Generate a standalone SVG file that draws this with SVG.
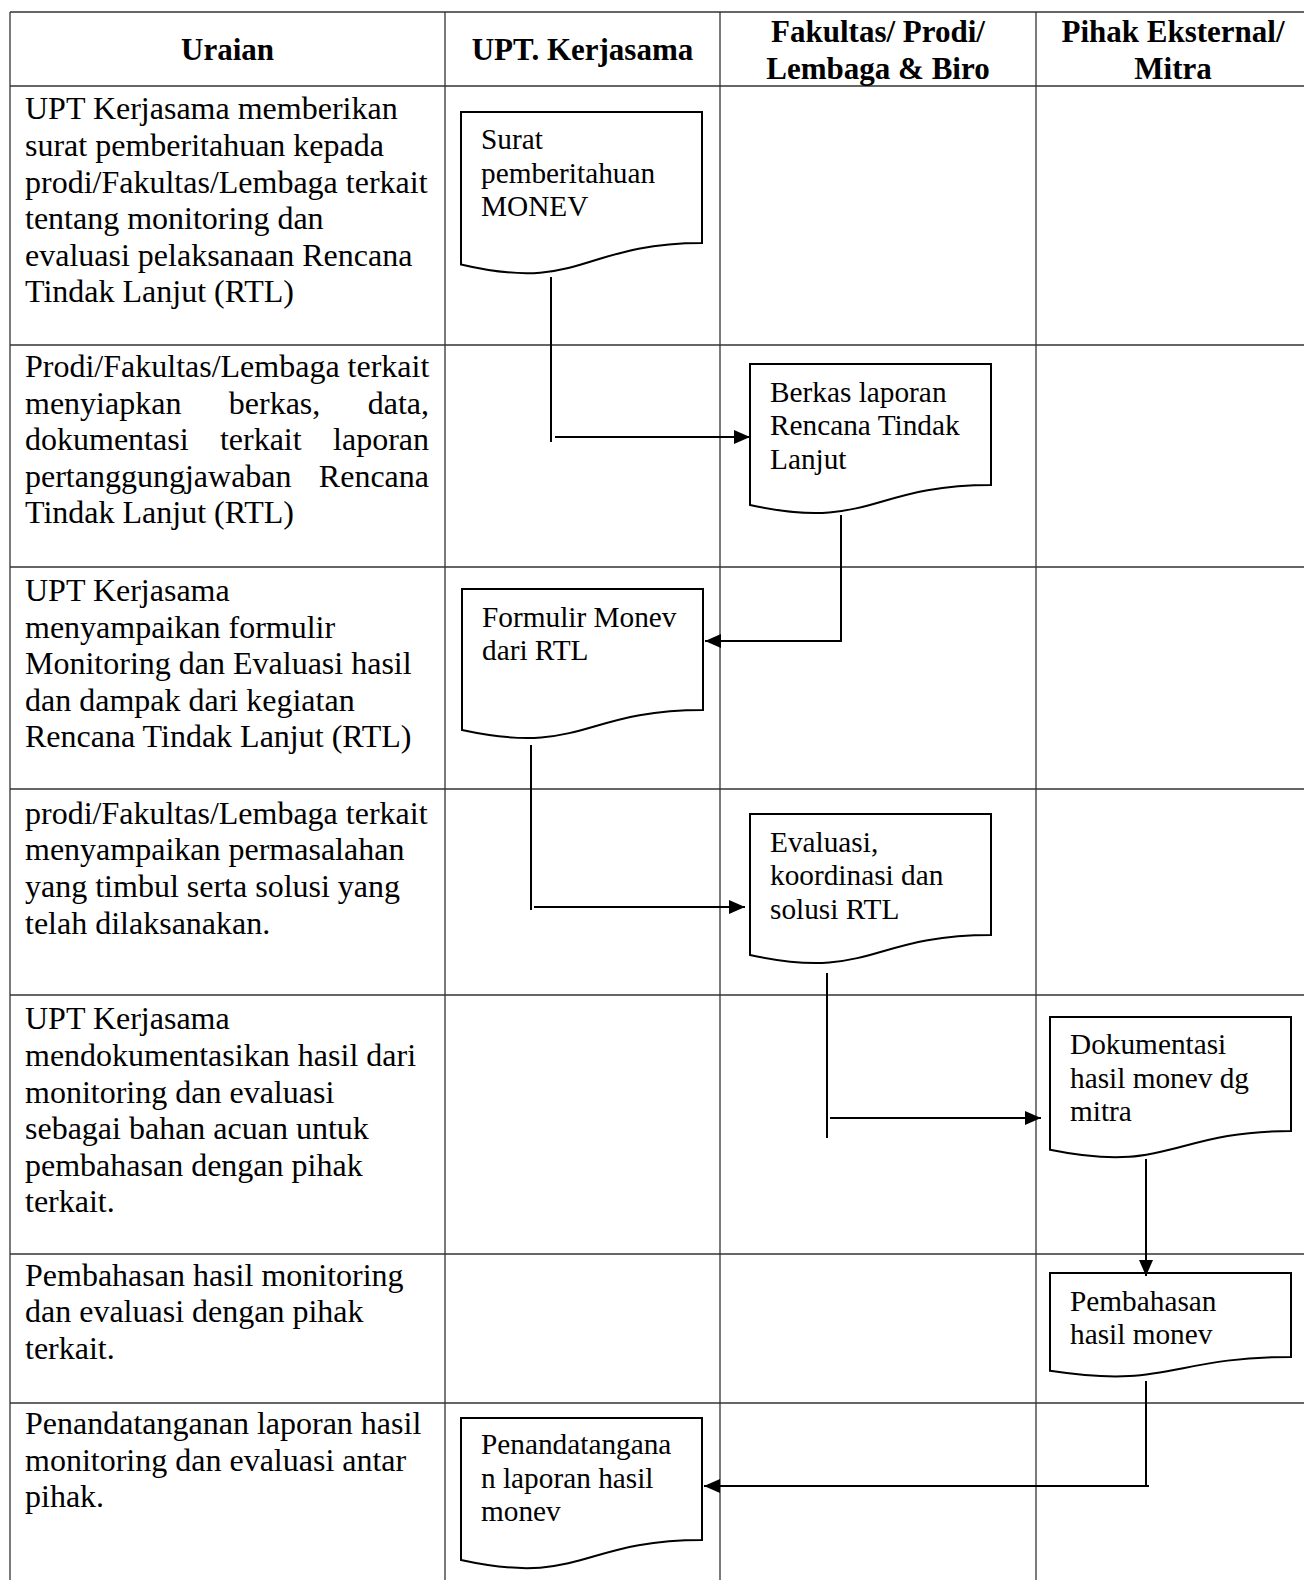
<svg xmlns="http://www.w3.org/2000/svg" width="1304" height="1580" viewBox="0 0 1304 1580">
<style>
.grid{stroke:#333;stroke-width:1.3;fill:none}
.doc{fill:#fff;stroke:#000;stroke-width:2}
.con{stroke:#000;stroke-width:2;fill:none}
text{font-family:"Liberation Serif","Times New Roman",serif;fill:#000}
.h{font-size:31px;font-weight:bold;text-anchor:middle}
.b{font-size:32px}
.d{font-size:29.3px}
</style>
<defs>
<marker id="arr" viewBox="0 0 16 14" refX="16" refY="7" markerWidth="16" markerHeight="14" markerUnits="userSpaceOnUse" orient="auto">
<path d="M0,0 L16,7 L0,14 Z" fill="#000"/>
</marker>
</defs>
<rect width="1304" height="1580" fill="#fff"/>
<g id="table" class="grid">
<line x1="10" y1="12" x2="1304" y2="12"/>
<line x1="10" y1="86" x2="1304" y2="86"/>
<line x1="10" y1="345" x2="1304" y2="345"/>
<line x1="10" y1="567" x2="1304" y2="567"/>
<line x1="10" y1="789" x2="1304" y2="789"/>
<line x1="10" y1="995" x2="1304" y2="995"/>
<line x1="10" y1="1254" x2="1304" y2="1254"/>
<line x1="10" y1="1403" x2="1304" y2="1403"/>
<line x1="10" y1="12" x2="10" y2="1580"/>
<line x1="445" y1="12" x2="445" y2="1580"/>
<line x1="720" y1="12" x2="720" y2="1580"/>
<line x1="1036" y1="12" x2="1036" y2="1580"/>
</g>
<g id="header">
<text class="h" x="227.5" y="60">Uraian</text>
<text class="h" x="582.5" y="60">UPT. Kerjasama</text>
<text class="h" x="878" y="42">Fakultas/ Prodi/</text>
<text class="h" x="878" y="79">Lembaga &amp; Biro</text>
<text class="h" x="1173" y="42">Pihak Eksternal/</text>
<text class="h" x="1173" y="79">Mitra</text>
</g>
<g id="uraian">
<text class="b" x="25" y="119.3">UPT Kerjasama memberikan</text>
<text class="b" x="25" y="155.9">surat pemberitahuan kepada</text>
<text class="b" x="25" y="192.5">prodi/Fakultas/Lembaga terkait</text>
<text class="b" x="25" y="229.1">tentang monitoring dan</text>
<text class="b" x="25" y="265.7">evaluasi pelaksanaan Rencana</text>
<text class="b" x="25" y="302.3">Tindak Lanjut (RTL)</text>

<text class="b" x="25" y="377">Prodi/Fakultas/Lembaga terkait</text>
<text class="b" y="413.6"><tspan x="25">menyiapkan</tspan> <tspan x="228.8">berkas,</tspan> <tspan x="429" text-anchor="end">data,</tspan></text>
<text class="b" y="450.2"><tspan x="25">dokumentasi</tspan> <tspan x="219.9">terkait</tspan> <tspan x="429" text-anchor="end">laporan</tspan></text>
<text class="b" y="486.8"><tspan x="25">pertanggungjawaban</tspan> <tspan x="429" text-anchor="end">Rencana</tspan></text>
<text class="b" x="25" y="523.4">Tindak Lanjut (RTL)</text>

<text class="b" x="25" y="601">UPT Kerjasama</text>
<text class="b" x="25" y="637.6">menyampaikan formulir</text>
<text class="b" x="25" y="674.2">Monitoring dan Evaluasi hasil</text>
<text class="b" x="25" y="710.8">dan dampak dari kegiatan</text>
<text class="b" x="25" y="747.4">Rencana Tindak Lanjut (RTL)</text>

<text class="b" x="25" y="823.8">prodi/Fakultas/Lembaga terkait</text>
<text class="b" x="25" y="860.4">menyampaikan permasalahan</text>
<text class="b" x="25" y="897">yang timbul serta solusi yang</text>
<text class="b" x="25" y="933.6">telah dilaksanakan.</text>

<text class="b" x="25" y="1029.4">UPT Kerjasama</text>
<text class="b" x="25" y="1066">mendokumentasikan hasil dari</text>
<text class="b" x="25" y="1102.6">monitoring dan evaluasi</text>
<text class="b" x="25" y="1139.2">sebagai bahan acuan untuk</text>
<text class="b" x="25" y="1175.8">pembahasan dengan pihak</text>
<text class="b" x="25" y="1212.4">terkait.</text>

<text class="b" x="25" y="1285.7">Pembahasan hasil monitoring</text>
<text class="b" x="25" y="1322.3">dan evaluasi dengan pihak</text>
<text class="b" x="25" y="1358.9">terkait.</text>

<text class="b" x="25" y="1434">Penandatanganan laporan hasil</text>
<text class="b" x="25" y="1470.6">monitoring dan evaluasi antar</text>
<text class="b" x="25" y="1507.2">pihak.</text>
</g>
<g id="doc1">
<path class="doc" d="M461,112 H702 V243 C581.5,243 581.5,292.9 461,264.5 Z"/>
<text class="d" x="481" y="149">Surat</text>
<text class="d" x="481" y="182.7">pemberitahuan</text>
<text class="d" x="481" y="216.4">MONEV</text>
</g>
<g id="doc2">
<path class="doc" d="M750,364 H991 V485 C870.5,485 870.5,531.1 750,505 Z"/>
<text class="d" x="770" y="401.7">Berkas laporan</text>
<text class="d" x="770" y="435.4">Rencana Tindak</text>
<text class="d" x="770" y="469.1">Lanjut</text>
</g>
<g id="doc3">
<path class="doc" d="M462,589 H703 V710 C582.5,710 582.5,756.1 462,730 Z"/>
<text class="d" x="482" y="626.7">Formulir Monev</text>
<text class="d" x="482" y="660.4">dari RTL</text>
</g>
<g id="doc4">
<path class="doc" d="M750,814 H991 V935 C870.5,935 870.5,981.1 750,955 Z"/>
<text class="d" x="770" y="851.7">Evaluasi,</text>
<text class="d" x="770" y="885.4">koordinasi dan</text>
<text class="d" x="770" y="919.1">solusi RTL</text>
</g>
<g id="doc5">
<path class="doc" d="M1050,1017 H1291 V1131 C1170.5,1131 1170.5,1174.4 1050,1149.8 Z"/>
<text class="d" x="1070" y="1054">Dokumentasi</text>
<text class="d" x="1070" y="1087.7">hasil monev dg</text>
<text class="d" x="1070" y="1121.4">mitra</text>
</g>
<g id="doc6">
<path class="doc" d="M1050,1273 H1291 V1357 C1170.5,1357 1170.5,1389 1050,1370.8 Z"/>
<text class="d" x="1070" y="1310.7">Pembahasan</text>
<text class="d" x="1070" y="1344.4">hasil monev</text>
</g>
<g id="doc7">
<path class="doc" d="M461,1418 H702 V1540 C581.5,1540 581.5,1586.5 461,1560 Z"/>
<text class="d" x="481" y="1454">Penandatangana</text>
<text class="d" x="481" y="1487.7">n laporan hasil</text>
<text class="d" x="481" y="1521.4">monev</text>
</g>
<g id="connectors" class="con">
<line x1="551" y1="277" x2="551" y2="442"/>
<line x1="555" y1="437" x2="750" y2="437" marker-end="url(#arr)"/>
<polyline points="841,515 841,641 705,641" marker-end="url(#arr)"/>
<line x1="531" y1="745" x2="531" y2="910"/>
<line x1="534" y1="907" x2="745" y2="907" marker-end="url(#arr)"/>
<line x1="827" y1="973" x2="827" y2="1138"/>
<line x1="830" y1="1118" x2="1041" y2="1118" marker-end="url(#arr)"/>
<line x1="1146" y1="1159" x2="1146" y2="1276" marker-end="url(#arr)"/>
<line x1="1146" y1="1381" x2="1146" y2="1487"/>
<line x1="1149" y1="1486" x2="704" y2="1486" marker-end="url(#arr)"/>
</g>
</svg>
